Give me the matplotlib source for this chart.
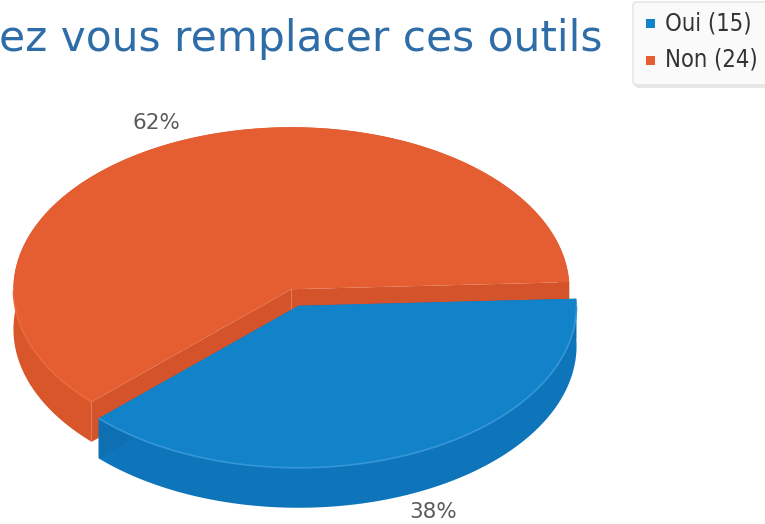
import numpy as np
import matplotlib
matplotlib.use("Agg")
import matplotlib.pyplot as plt
from matplotlib.patches import Polygon, FancyBboxPatch, Rectangle

# ---- data ----
labels = ["Oui", "Non"]
counts = [15, 24]
title_text = "ez vous remplacer ces outils"

# ---- style ----
top_colors = ["#1282C9", "#E55E31"]
side_colors = ["#0E75BB", "#D8562A"]
cut_colors = ["#0E6FB2", "#D5532A"]
rim_colors = ["#3596D8", "#E96A3E"]

W, H = 765, 524
fig = plt.figure(figsize=(W / 100, H / 100), dpi=100)
ax = fig.add_axes([0, 0, 1, 1])
ax.set_xlim(0, W)
ax.set_ylim(H, 0)
ax.axis("off")

RX, RY, DEPTH = 278, 162, 40
CX, CY = 295, 297.5
START = -2.5      # degrees, clockwise on screen
EXPLODE = 9       # px along mid-angle

total = sum(counts)
angles = []
a = START
for c in counts:
    span = 360.0 * c / total
    angles.append((a, a + span))
    a += span


def rim(cx, cy, th):
    t = np.radians(th)
    return cx + RX * np.cos(t), cy + RY * np.sin(t)


slices = []
for i, (a1, a2) in enumerate(angles):
    m = np.radians((a1 + a2) / 2)
    cx = CX + EXPLODE * np.cos(m)
    cy = CY + EXPLODE * np.sin(m)
    slices.append((i, a1, a2, cx, cy, m))

# draw back slice (Non) first, then front slice (Oui)
order = sorted(slices, key=lambda s: s[4])
for k, (i, a1, a2, cx, cy, m) in enumerate(order):
    z = 2 * k + 1
    th = np.linspace(a1, a2, 200)
    xs, ys = rim(cx, cy, th)
    # outer wall
    wall = np.column_stack([np.concatenate([xs, xs[::-1]]),
                            np.concatenate([ys, ys[::-1] + DEPTH])])
    ax.add_patch(Polygon(wall, closed=True, facecolor=side_colors[i],
                         edgecolor="none", zorder=z))
    # cut faces
    for ang in (a1, a2):
        px, py = rim(cx, cy, ang)
        face = [(cx, cy), (px, py), (px, py + DEPTH), (cx, cy + DEPTH)]
        ax.add_patch(Polygon(face, closed=True, facecolor=cut_colors[i],
                             edgecolor="none", zorder=z))
    # top surface
    top = np.column_stack([np.concatenate([[cx], xs]), np.concatenate([[cy], ys])])
    ax.add_patch(Polygon(top, closed=True, facecolor=top_colors[i],
                         edgecolor="none", zorder=z + 0.5))
    # subtle highlight along the front rim
    front = np.sin(np.radians(th)) > 0
    if front.any():
        ax.plot(xs[front], ys[front], color=rim_colors[i], lw=1.2,
                zorder=z + 0.6, solid_capstyle="butt")
    # percentage label
    pct = round(100 * counts[i] / total)
    lx = CX + EXPLODE * np.cos(m) + 1.23 * RX * np.cos(m)
    ly = CY + EXPLODE * np.sin(m) + 1.12 * RY * np.sin(m) + (DEPTH if np.sin(m) > 0 else 0)
    ax.text(lx, ly, f"{pct}%", ha="center", va="center", fontsize=15.5,
            color="#5A5A5A", family="DejaVu Sans", zorder=10)

# ---- title (cut at the left edge as in the reference) ----
ax.text(603, 51, title_text, ha="right", va="baseline", fontsize=30.4,
        color="#2F6DA8", family="DejaVu Sans", zorder=10)

# ---- legend ----
ax.add_patch(FancyBboxPatch((635, 5), 150, 83, boxstyle="round,pad=0,rounding_size=4",
                            facecolor="#E6E6E6", edgecolor="none", zorder=11))
ax.add_patch(FancyBboxPatch((633, 2), 150, 83, boxstyle="round,pad=0,rounding_size=4",
                            facecolor="#FAFAFA", edgecolor="#E2E2E2", lw=1, zorder=12))
for i, lab in enumerate(labels):
    ly = 23 + 37 * i
    ax.add_patch(Rectangle((646, ly - 4.5), 9, 9, facecolor=top_colors[i],
                           edgecolor="none", zorder=13))
    ax.text(665, ly, f"{lab} ({counts[i]})", ha="left", va="center",
            fontsize=17, color="#333333", family="DejaVu Sans",
            fontstretch="condensed", zorder=13)

fig.savefig("out.png", dpi=100)
